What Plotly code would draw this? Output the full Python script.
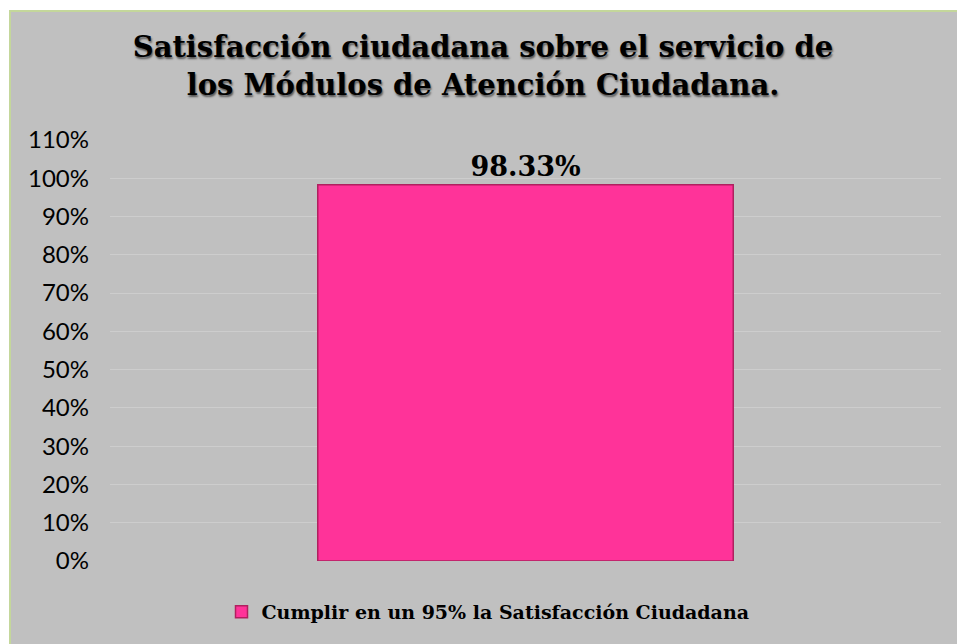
import plotly.graph_objects as go

categories = ["Cumplir en un 95% la Satisfacción Ciudadana"]
values = [0.9833]
labels = ["98.33%"]
series_name = "Cumplir en un 95% la Satisfacción Ciudadana"
title_lines = ["Satisfacción ciudadana sobre el servicio de", "los Módulos de Atención Ciudadana."]

W, H = 957, 644
ml, mr, mt, mb = 110, 16, 140, 83
pw, ph = W - ml - mr, H - mt - mb

def px2x(p):
    return (p - ml) / pw

def py2y(p):
    return (H - mb - p) / ph

serif = "DejaVu Serif"
sans = "Lato"

fig = go.Figure()
fig.add_trace(go.Bar(
    x=categories, y=values, name=series_name,
    width=0.5,
    marker=dict(color="#FF3399", line=dict(color="#B0205F", width=1.5)),
    text=labels, textposition="outside", cliponaxis=False,
    textfont=dict(family=serif, size=27, color="#000000", weight="bold"),
    showlegend=True,
))

fig.update_layout(
    width=W, height=H,
    margin=dict(l=ml, r=mr, t=mt, b=mb),
    paper_bgcolor="white",
    plot_bgcolor="rgba(0,0,0,0)",
    title=dict(
        text="<br>".join(title_lines),
        x=483 / W, xanchor="center",
        y=1 - 57 / H, yanchor="middle",
        font=dict(family=serif, size=29, color="#000000", weight="bold",
                  shadow="1px 2px 2px #555555"),
    ),
    xaxis=dict(showticklabels=False, showgrid=False, zeroline=False, showline=False,
               ticks=""),
    yaxis=dict(range=[0, 1.1], dtick=0.1, tickformat=".0%",
               showgrid=True, gridcolor="#CDCDCD", gridwidth=1,
               zeroline=False, showline=False, ticks="",
               tickfont=dict(family=sans, size=24, color="#000000"),
               ticklabelstandoff=20),
    showlegend=True,
    legend=dict(orientation="h", x=px2x(488), xanchor="center",
                y=py2y(612), yanchor="middle",
                bgcolor="rgba(0,0,0,0)",
                font=dict(family=serif, size=19, color="#000000", weight="bold"),
                itemwidth=30),
    shapes=[dict(type="rect", xref="paper", yref="paper",
                 x0=px2x(10), x1=px2x(960), y0=py2y(647), y1=py2y(11),
                 fillcolor="#C0C0C0", line=dict(color="#C4D79B", width=2),
                 layer="below")],
    bargap=0.5,
)

fig.write_html("out.html")
